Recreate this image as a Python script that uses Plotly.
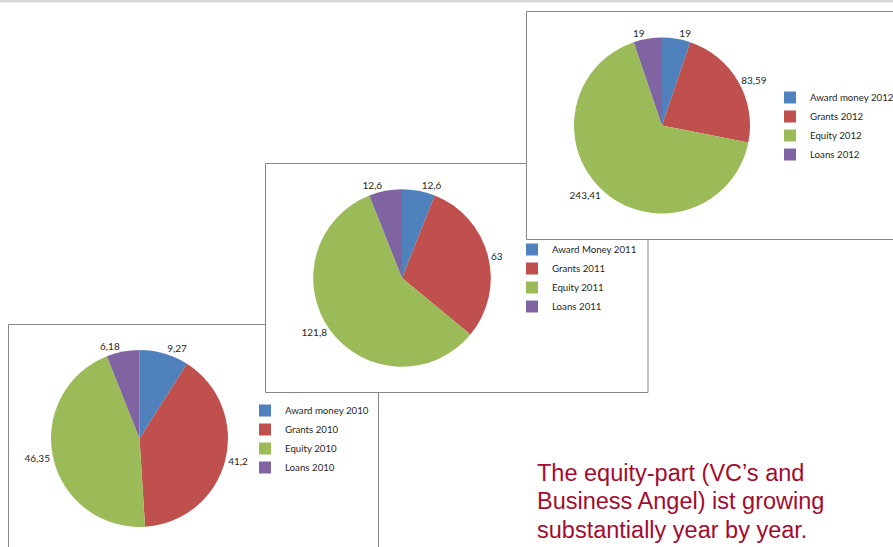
import plotly.graph_objects as go

W, H = 893, 547

labels_2010 = ["Award money 2010", "Grants 2010", "Equity 2010", "Loans 2010"]
values_2010 = [9.27, 41.2, 46.35, 6.18]
text_2010 = ["9,27", "41,2", "46,35", "6,18"]

labels_2011 = ["Award Money 2011", "Grants 2011", "Equity 2011", "Loans 2011"]
values_2011 = [12.6, 63, 121.8, 12.6]
text_2011 = ["12,6", "63", "121,8", "12,6"]

labels_2012 = ["Award money 2012", "Grants 2012", "Equity 2012", "Loans 2012"]
values_2012 = [19, 83.59, 243.41, 19]
text_2012 = ["19", "83,59", "243,41", "19"]

note_lines = ["The equity-part (VC’s and", "Business Angel) ist growing", "substantially year by year."]

colors = ["#4F81BD", "#C0504D", "#9BBB59", "#8064A2"]
FONT = "Lato"


def px_x(v):
    return v / W


def px_y(v):
    return 1 - v / H


def dom(cx, cy, r):
    return dict(x=[px_x(cx - r), px_x(cx + r)], y=[px_y(cy + r), px_y(cy - r)])


fig = go.Figure()

pies = [
    (labels_2010, values_2010, text_2010, (139.5, 438.5, 88.5), "legend"),
    (labels_2011, values_2011, text_2011, (402, 278, 88.8), "legend2"),
    (labels_2012, values_2012, text_2012, (662, 125.5, 88), "legend3"),
]

for lab, val, txt, (cx, cy, r), lg in pies:
    fig.add_trace(go.Pie(
        labels=lab, values=val, text=txt, textinfo="text",
        textposition="outside", sort=False, direction="clockwise", rotation=0,
        marker=dict(colors=colors, line=dict(width=0)),
        textfont=dict(family=FONT, size=10, color="#262626"),
        domain=dom(cx, cy, r), legend=lg, hoverinfo="skip",
    ))

shapes = [
    dict(type="rect", xref="paper", yref="paper", x0=0, x1=1, y0=px_y(2.5), y1=1,
         fillcolor="#D9D9D9", line=dict(width=0), layer="below"),
]
boxes = [(8.5, 324.5, 378.5, 560), (265.5, 163.5, 648, 392.5), (526.5, 11.5, 905, 239.5)]
for x0, y0, x1, y1 in boxes:
    shapes.append(dict(type="rect", xref="paper", yref="paper",
                       x0=px_x(x0), x1=px_x(x1), y0=px_y(y1), y1=px_y(y0),
                       fillcolor="white", line=dict(color="#868686", width=1), layer="below"))

leg_common = dict(font=dict(family=FONT, size=9.7, color="#262626"), bgcolor="rgba(0,0,0,0)",
                  xanchor="left", yanchor="top", itemclick=False, itemdoubleclick=False)

annotations = []
for i, line in enumerate(note_lines):
    annotations.append(dict(
        text=line, xref="paper", yref="paper", x=px_x(535), y=px_y(458 + 28.3 * i),
        xanchor="left", yanchor="top", align="left", showarrow=False,
        font=dict(family="Liberation Sans, Arial", size=23.5, color="#A50B2E"),
    ))

fig.update_layout(
    width=W, height=H, margin=dict(l=0, r=0, t=0, b=0, autoexpand=False),
    paper_bgcolor="white", plot_bgcolor="white",
    shapes=shapes,
    legend=dict(x=px_x(245), y=px_y(396), **leg_common),
    legend2=dict(x=px_x(512), y=px_y(235), **leg_common),
    legend3=dict(x=px_x(770), y=px_y(83), **leg_common),
    annotations=annotations,
)

fig.write_html("out.html", config={"displayModeBar": False})

with open("out.html", "r", encoding="utf-8") as f:
    html = f.read()
html = html.replace("<head>", "<head><style>html,body{margin:0;padding:0;overflow:hidden;}</style>", 1)
with open("out.html", "w", encoding="utf-8") as f:
    f.write(html)
